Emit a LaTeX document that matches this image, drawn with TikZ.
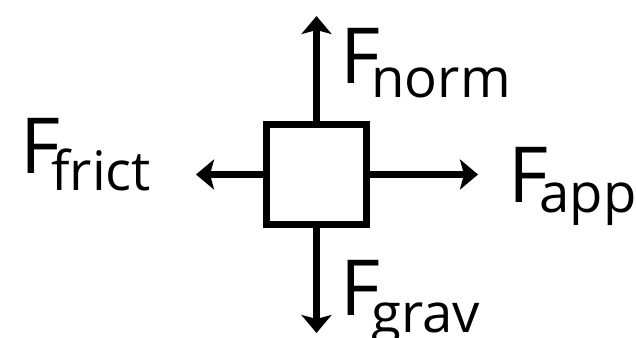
\documentclass[tikz,border=0pt]{standalone}
\usepackage{fontspec}
\setmainfont{Open Sans}
\usetikzlibrary{arrows.meta}

\newcommand{\bigsz}{\fontsize{44pt}{44pt}\selectfont}
\newcommand{\subsz}{\fontsize{31pt}{31pt}\selectfont}
% force label: F with a lowered subscript
\newcommand{\flabel}[2]{{\bigsz F}\kern-5pt\raisebox{-#2}{\subsz #1}}

\tikzset{
	block/.style={draw, line width=4pt, minimum size=2cm, inner sep=0pt},
	force/.style={line width=3.6pt, -{Stealth[length=0.36cm,width=0.6cm,inset=0.08cm]}},
	flab/.style={anchor=base west, inner sep=0pt}
}

\begin{document}
\begin{tikzpicture}[x=0.02cm, y=-0.02cm]
	\useasboundingbox (0,0) rectangle (636,338);
	
	% Block
	\node[block] (box) at (316.5,174.5) {};
	
	% Arrow ends
	\coordinate (up) at (316.5,16);
	\coordinate (down) at (316.5,333);
	\coordinate (left) at (196,174.5);
	\coordinate (right) at (478,174.5);
	
	% Forces
	\draw[force] (box.north) -- (up);
	\draw[force] (box.south) -- (down);
	\draw[force] (box.west) -- (left);
	\draw[force] (box.east) -- (right);
	
	% Labels
	\node[flab] (norm) at (340,83) {\flabel{norm}{8.5pt}};
	\node[flab] (grav) at (340,315) {\flabel{grav}{10pt}};
	\node[flab] (frict) at (20,173) {\flabel{frict}{10pt}};
	\node[flab] (app) at (508,202) {\flabel{app}{6pt}};
\end{tikzpicture}
\end{document}
